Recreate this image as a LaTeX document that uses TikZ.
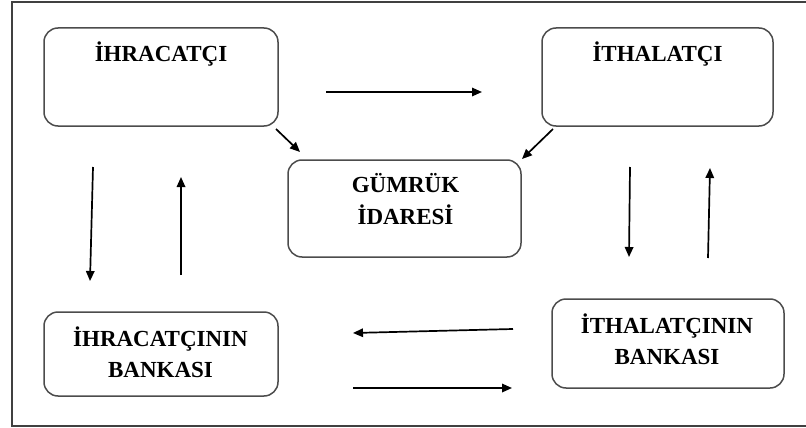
\documentclass[tikz,border=0pt]{standalone}
\usepackage{fontspec}
\setmainfont{Liberation Serif}
\usetikzlibrary{arrows.meta}
\tikzset{
  box/.style={draw=black!70, line width=1.5pt, rounded corners=14pt, inner sep=0pt},
  lbl/.style={font=\fontsize{23}{31}\selectfont\bfseries, align=center, inner sep=0pt, text=black},
  arr/.style={line width=1.7pt, -{Triangle[length=10pt,width=8.5pt]}},
}
\begin{document}
\begin{tikzpicture}[x=1pt,y=-1pt]
\useasboundingbox (0,0) rectangle (806,428);
% frame
\draw[black!75, line width=1.4pt] (806,2) -- (12,2) -- (12,426) -- (806,426);
% boxes
\node[box, minimum width=234pt, minimum height=98pt] (exp) at (161,77) {};
\node[box, minimum width=231pt, minimum height=98pt] (imp) at (657.5,77) {};
\node[box, minimum width=233pt, minimum height=97pt] (cus) at (404.5,208.5) {};
\node[box, minimum width=234pt, minimum height=84pt] (expb) at (161,354) {};
\node[box, minimum width=232pt, minimum height=89pt] (impb) at (668,343.5) {};
% labels
\node[lbl, anchor=base] (expt) at (161,62) {İHRACATÇI};
\node[lbl, anchor=base] (impt) at (657.5,62) {İTHALATÇI};
\node[lbl, font=\fontsize{23}{32}\selectfont\bfseries] (cust) at (405.5,199.5) {GÜMRÜK\\İDARESİ};
\node[lbl] (expbt) at (160.5,351.8) {İHRACATÇININ\\BANKASI};
\node[lbl] (impbt) at (667,339) {İTHALATÇININ\\BANKASI};
% arrow end points
\coordinate (a1s) at (326,92);  \coordinate (a1e) at (482,92);
\coordinate (a2s) at (276,129); \coordinate (a2e) at (300,152);
\coordinate (a3s) at (553,129); \coordinate (a3e) at (522,159);
\coordinate (a4s) at (93,167);  \coordinate (a4e) at (90,281);
\coordinate (a5s) at (181,275); \coordinate (a5e) at (181,177);
\coordinate (a6s) at (630,167); \coordinate (a6e) at (629,257);
\coordinate (a7s) at (708,258); \coordinate (a7e) at (710,168);
\coordinate (a8s) at (513,329); \coordinate (a8e) at (353,333);
\coordinate (a9s) at (353,388); \coordinate (a9e) at (512,388);
\foreach \i in {1,...,9} { \draw[arr] (a\i s) -- (a\i e); }
\end{tikzpicture}
\end{document}
